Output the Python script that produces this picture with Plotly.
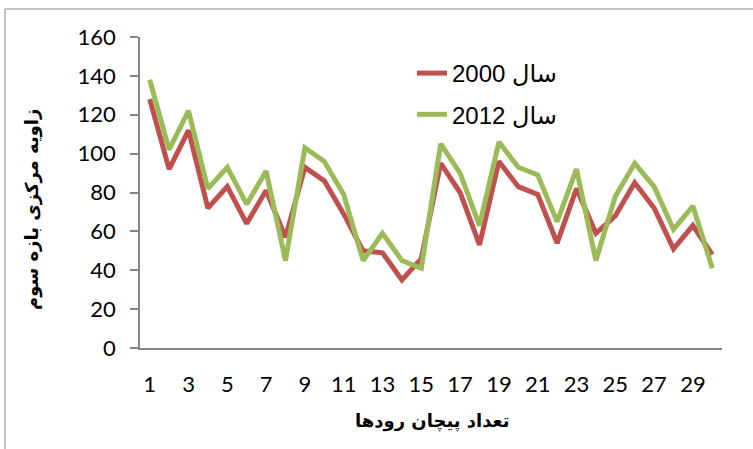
import plotly.graph_objects as go

x_vals = list(range(1, 31))
series_2000 = [128, 92, 112, 72, 83, 64, 81, 57, 93, 86, 69, 50, 49, 35, 46,
               95, 80, 53, 96, 83, 79, 54, 82, 59, 68, 85, 72, 51, 63, 48]
series_2012 = [138, 102, 122, 82, 93, 74, 91, 45, 103, 96, 79, 45, 59, 45, 41,
               105, 90, 63, 106, 93, 89, 65, 92, 45, 78, 95, 83, 61, 73, 41]
name_2000 = "سال 2000"
name_2012 = "سال 2012"
x_ticks = list(range(1, 30, 2))
y_ticks = list(range(0, 161, 20))
x_title = "تعداد پیچان رودها"
y_title = "زاویه مرکزی بازه سوم"

fig = go.Figure()
fig.add_trace(go.Scatter(x=x_vals, y=series_2000, mode="lines", name=name_2000,
                         legendgroup="a",
                         line=dict(color="#C0504D", width=5)))
fig.add_trace(go.Scatter(x=x_vals, y=series_2012, mode="lines", name=name_2012,
                         legendgroup="b",
                         line=dict(color="#9BBB59", width=5)))

W, H = 753, 449
L, R, T, B = 140, 31, 37, 101
pw, ph = W - L - R, H - T - B

def px(xp):
    return (xp - L) / pw

def py(yp):
    return (H - B - yp) / ph

tick_font = dict(family="Lato, Carlito, Calibri, sans-serif", size=22, color="black")

fig.update_layout(
    width=W, height=H,
    margin=dict(l=L, r=R, t=T, b=B, autoexpand=False),
    paper_bgcolor="white", plot_bgcolor="white",
    showlegend=True,
    legend=dict(x=px(412), y=py(51), xanchor="left", yanchor="top",
                bgcolor="rgba(0,0,0,0)", tracegroupgap=7,
                font=dict(family="Liberation Sans, Arial, DejaVu Sans", size=24, color="black")),
    xaxis=dict(range=[0.5, 30.5], tickvals=x_ticks, ticktext=[str(v) for v in x_ticks],
               showgrid=False, zeroline=False, showline=True, linecolor="#868686",
               linewidth=1.5, ticks="", ticklabelstandoff=16, automargin=False,
               tickfont=tick_font),
    yaxis=dict(range=[0, 160], tickvals=y_ticks, showgrid=False, zeroline=False,
               showline=True, linecolor="#868686", linewidth=1.5,
               ticks="outside", ticklen=8, tickcolor="#868686", tickwidth=1.5,
               ticklabelstandoff=10, automargin=False,
               tickfont=tick_font),
    annotations=[
        dict(text="<b>" + x_title + "</b>", xref="paper", yref="paper",
             x=px(432), y=py(421), xanchor="center", yanchor="middle", showarrow=False,
             font=dict(family="DejaVu Sans", size=18, color="black")),
        dict(text="<b>" + y_title + "</b>", xref="paper", yref="paper",
             x=px(32), y=py(210), xanchor="center", yanchor="middle", showarrow=False,
             textangle=-90,
             font=dict(family="DejaVu Sans", size=18, color="black")),
    ],
    shapes=[dict(type="rect", xref="paper", yref="paper",
                 x0=px(5), x1=px(800), y0=py(520), y1=py(9),
                 line=dict(color="#868686", width=1), fillcolor="rgba(0,0,0,0)", layer="below")],
)

fig.write_html("out.html", config={"displayModeBar": False},
               post_script="document.body.style.margin='0';document.body.style.overflow='hidden';")
